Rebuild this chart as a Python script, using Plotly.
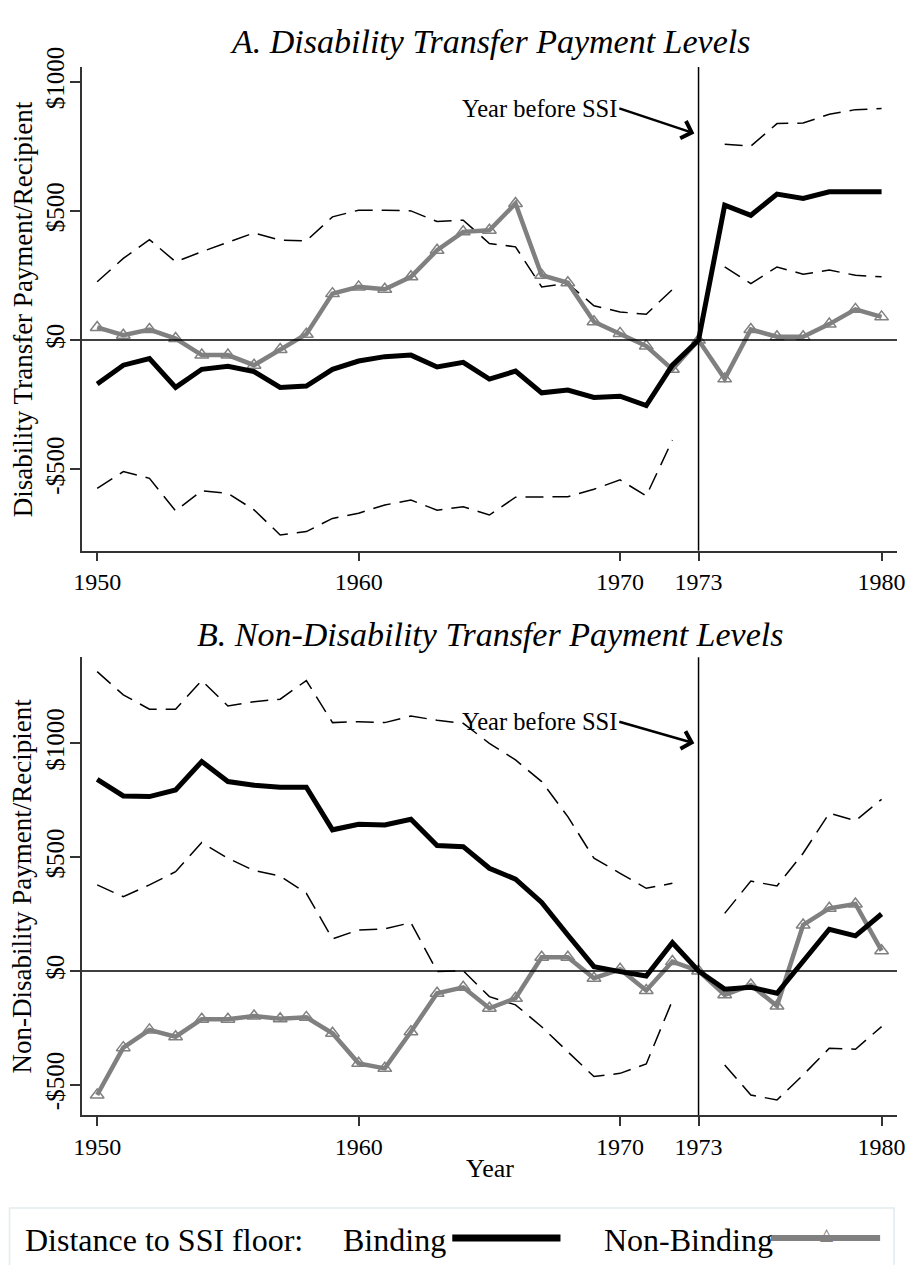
import plotly.graph_objects as go

years = list(range(1950, 1981))

# Panel A: Disability transfer payment levels
a_binding = [-170, -97, -71, -183, -113, -101, -122, -183, -178, -113, -81, -64, -58, -104,
             -86, -151, -120, -204, -193, -222, -217, -253, -97, 0,
             522, 483, 565, 548, 574, 574, 574]
a_upper = [226, 316, 389, 303, 342, 380, 415, 387, 384, 477, 503, 503, 500, 459,
           464, 374, 361, 206, 219, 133, 109, 100, 196, None,
           758, 751, 838, 840, 874, 892, 896]
a_lower = [-574, -509, -535, -661, -583, -593, -657, -754, -741, -690, -670, -638, -619, -658,
           -645, -677, -608, -608, -606, -577, -541, -603, -387, None,
           283, 219, 283, 255, 271, 251, 245]
a_nonbinding = [49, 19, 41, 6, -58, -58, -97, -36, 23, 180, 206, 197, 245, 348,
                419, 425, 529, 251, 222, 71, 26, -23, -113, 0,
                -150, 41, 13, 13, 62, 119, 90]

# Panel B: Non-disability transfer payment levels
b_binding = [842, 769, 766, 795, 920, 832, 816, 807, 807, 620, 644, 641, 666, 551,
             546, 451, 403, 301, 158, 19, -3, -22, 124, 0,
             -80, -72, -98, 41, 183, 154, 250]
b_upper = [1315, 1213, 1150, 1150, 1276, 1164, 1183, 1194, 1276, 1091, 1095, 1091, 1120, 1101,
           1088, 1000, 927, 832, 678, 495, 429, 363, 385, None,
           253, 395, 373, 517, 693, 660, 754]
b_lower = [378, 326, 378, 436, 564, 495, 441, 417, 341, 141, 180, 185, 212, -2,
           1, -113, -149, -245, -355, -464, -450, -409, -130, None,
           -413, -545, -567, -457, -340, -344, -245]
b_nonbinding = [-545, -337, -259, -289, -212, -212, -198, -210, -204, -274, -406, -428, -267, -98,
                -72, -164, -120, 60, 60, -32, 7, -86, 41, 0,
                -105, -62, -154, 202, 275, 294, 89]

x_ticks = [1950, 1960, 1970, 1973, 1980]
y_ticks = [-500, 0, 500, 1000]
y_ticklabels = ["-$500", "$0", "$500", "$1000"]

FONT = "Liberation Serif"
W, H = 917, 1265
ML, MR, MT, MB = 82, 14, 67, 150
PW, PH = W - ML - MR, H - MT - MB


def px(xp):
    return (xp - ML) / PW


def py(yp):
    return (H - MB - yp) / PH


BLACK = "black"
GRAY = "rgb(128,128,128)"

fig = go.Figure()

for (xa, ya, binding, upper, lower, nonb) in [
    ("x", "y", a_binding, a_upper, a_lower, a_nonbinding),
    ("x2", "y2", b_binding, b_upper, b_lower, b_nonbinding),
]:
    for ci in (upper, lower):
        fig.add_trace(go.Scatter(x=years, y=ci, xaxis=xa, yaxis=ya, mode="lines",
                                 line=dict(color=BLACK, width=1.5, dash="18px,9px"),
                                 connectgaps=False, showlegend=False, hoverinfo="skip"))
    fig.add_trace(go.Scatter(x=years, y=nonb, xaxis=xa, yaxis=ya, mode="lines+markers",
                             line=dict(color=GRAY, width=4.5),
                             marker=dict(symbol="triangle-up-open", size=12, color=GRAY,
                                         line=dict(width=1.5, color=GRAY)),
                             showlegend=False))
    fig.add_trace(go.Scatter(x=years, y=binding, xaxis=xa, yaxis=ya, mode="lines",
                             line=dict(color=BLACK, width=5), showlegend=False))

xaxis_common = dict(range=[1949.42, 1980.59], tickvals=x_ticks, ticktext=[str(t) for t in x_ticks],
                    showline=True, linecolor="#333333", linewidth=1.5, ticks="outside", ticklen=9,
                    tickwidth=1.5, tickcolor="#333333", showgrid=False, zeroline=False,
                    tickfont=dict(family=FONT, size=24, color="black"))
yaxis_common = dict(tickvals=y_ticks, ticktext=y_ticklabels, tickangle=-90,
                    showline=True, linecolor="#333333", linewidth=1.5, ticks="outside", ticklen=10,
                    tickwidth=1.5, tickcolor="#333333", showgrid=False, zeroline=False,
                    ticklabelstandoff=-4,
                    tickfont=dict(family=FONT, size=25, color="black"))

fig.update_layout(
    width=W, height=H,
    margin=dict(l=ML, r=MR, t=MT, b=MB),
    paper_bgcolor="white", plot_bgcolor="white",
    xaxis=dict(xaxis_common, anchor="y"),
    yaxis=dict(yaxis_common, range=[-815, 1057], domain=[py(550.7), 1], anchor="x"),
    xaxis2=dict(xaxis_common, anchor="y2"),
    yaxis2=dict(yaxis_common, range=[-633, 1378], domain=[0, py(657.3)], anchor="x2"),
    showlegend=False,
)

shapes = []
for xr, yr in [("x", "y"), ("x2", "y2")]:
    shapes.append(dict(type="line", xref=xr, yref=yr + " domain", x0=1973, x1=1973, y0=0, y1=1,
                       line=dict(color="black", width=1.5)))
    shapes.append(dict(type="line", xref=xr + " domain", yref=yr, x0=0, x1=1, y0=0, y1=0,
                       line=dict(color="black", width=1.5)))

# legend box
shapes.append(dict(type="rect", xref="paper", yref="paper", x0=px(9), x1=px(900), y0=py(1208), y1=py(1266),
                   line=dict(color="#e3ebee", width=1.5), fillcolor="white", layer="below"))
shapes.append(dict(type="line", xref="paper", yref="paper", x0=px(455), x1=px(564), y0=py(1238), y1=py(1238),
                   line=dict(color=BLACK, width=7)))
shapes.append(dict(type="line", xref="paper", yref="paper", x0=px(776), x1=px(886), y0=py(1238), y1=py(1238),
                   line=dict(color=GRAY, width=6)))
fig.update_layout(shapes=shapes)

ann = []
ann.append(dict(text="<i>A. Disability Transfer Payment Levels</i>", xref="paper", yref="paper",
                x=0.5, y=py(42), xanchor="center", yanchor="middle", showarrow=False,
                font=dict(family=FONT, size=34, color="black")))
ann.append(dict(text="<i>B. Non-Disability Transfer Payment Levels</i>", xref="paper", yref="paper",
                x=0.5, y=py(634), xanchor="center", yanchor="middle", showarrow=False,
                font=dict(family=FONT, size=34, color="black")))
ann.append(dict(text="Disability Transfer Payment/Recipient", xref="paper", yref="paper",
                x=px(22), y=py(308.7), xanchor="center", yanchor="middle", textangle=-90,
                showarrow=False, font=dict(family=FONT, size=27, color="black")))
ann.append(dict(text="Non-Disability Payment/Recipient", xref="paper", yref="paper",
                x=px(22), y=py(886), xanchor="center", yanchor="middle", textangle=-90,
                showarrow=False, font=dict(family=FONT, size=27, color="black")))
ann.append(dict(text="Year", xref="paper", yref="paper", x=px(493), y=py(1168),
                xanchor="center", yanchor="middle", showarrow=False,
                font=dict(family=FONT, size=26, color="black")))
for xr, yr, ty, ay in [("x", "y", 897, 800), ("x2", "y2", 1095, 1000)]:
    ann.append(dict(text="Year before SSI", xref=xr, yref=yr, x=1972.84, y=ay,
                    ax=1969.97, ay=ty, axref=xr, ayref=yr, showarrow=True,
                    arrowhead=4, arrowsize=1.4, arrowwidth=2.5, arrowcolor="black",
                    xanchor="right", yanchor="middle",
                    font=dict(family=FONT, size=24.5, color="black")))
ann.append(dict(text="Distance to SSI floor:", xref="paper", yref="paper", x=px(23), y=py(1240),
                xanchor="left", yanchor="middle", showarrow=False,
                font=dict(family=FONT, size=32, color="black")))
ann.append(dict(text="Binding", xref="paper", yref="paper", x=px(343), y=py(1240),
                xanchor="left", yanchor="middle", showarrow=False,
                font=dict(family=FONT, size=32, color="black")))
ann.append(dict(text="Non-Binding", xref="paper", yref="paper", x=px(606), y=py(1240),
                xanchor="left", yanchor="middle", showarrow=False,
                font=dict(family=FONT, size=32, color="black")))
ann.append(dict(text="△", xref="paper", yref="paper", x=px(832), y=py(1234),
                xanchor="center", yanchor="middle", showarrow=False,
                font=dict(family="DejaVu Sans", size=17, color=GRAY)))
fig.update_layout(annotations=ann)

fig.write_html("out.html", config={"displayModeBar": False},
               post_script="document.body.style.margin='0';document.body.style.overflow='hidden';")
